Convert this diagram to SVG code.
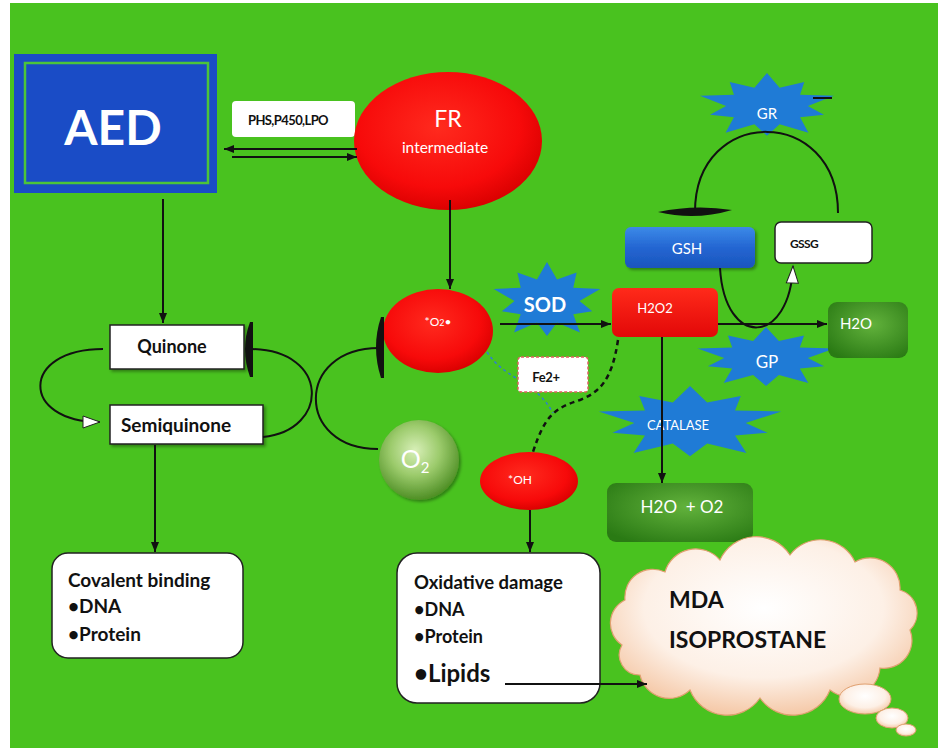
<svg xmlns="http://www.w3.org/2000/svg" width="941" height="754" viewBox="0 0 941 754">
<defs>
<style>
.t{font-family:Lato,"Liberation Sans",sans-serif}
.w{fill:#fff}
.k{fill:#111}
.b{font-weight:700}
.ln{fill:none;stroke:#111;stroke-width:2}
.box{fill:#fff;stroke:#222;stroke-width:1.5}
.star{fill:#1f7bd6}
</style>
<path id="star" d="M0,-100 L17.9,-55.2 L52.9,-72.8 L46.9,-34.1 L95.1,-30.9 L58,0 L80.8,26.3 L46.9,34.1 L58.8,80.9 L17.9,55.2 L0,90 L-17.9,55.2 L-58.8,80.9 L-46.9,34.1 L-80.8,26.3 L-58,0 L-95.1,-30.9 L-46.9,-34.1 L-52.9,-72.8 L-17.9,-55.2 Z"/>
<radialGradient id="red" cx="45%" cy="40%" r="62%">
<stop offset="0" stop-color="#ff2a1e"/><stop offset="0.7" stop-color="#f70a0a"/><stop offset="1" stop-color="#d80000"/>
</radialGradient>
<linearGradient id="redbox" x1="0" y1="0" x2="0" y2="1">
<stop offset="0" stop-color="#ff2a1a"/><stop offset="1" stop-color="#e20808"/>
</linearGradient>
<linearGradient id="blue" x1="0" y1="0" x2="0" y2="1">
<stop offset="0" stop-color="#3c8ae8"/><stop offset="0.5" stop-color="#2466d2"/><stop offset="1" stop-color="#1a55bd"/>
</linearGradient>
<radialGradient id="dg" cx="55%" cy="40%" r="70%">
<stop offset="0" stop-color="#62b23c"/><stop offset="1" stop-color="#2a7a14"/>
</radialGradient>
<radialGradient id="o2" cx="45%" cy="38%" r="62%">
<stop offset="0" stop-color="#d8efb8"/><stop offset="0.5" stop-color="#9ccb6c"/><stop offset="1" stop-color="#4f8f25"/>
</radialGradient>
<radialGradient id="cloud" cx="50%" cy="40%" r="65%">
<stop offset="0" stop-color="#ffffff"/><stop offset="0.6" stop-color="#fdf0e6"/><stop offset="1" stop-color="#f3c09a"/>
</radialGradient>
<filter id="sh" x="-10%" y="-10%" width="130%" height="140%">
<feDropShadow dx="2" dy="2" stdDeviation="1.5" flood-color="#000" flood-opacity="0.35"/>
</filter>
<marker id="ah" markerWidth="10" markerHeight="8" refX="10" refY="4" orient="auto" markerUnits="userSpaceOnUse">
<path d="M0,0 L10,4 L0,8 Z" fill="#111"/>
</marker>
<marker id="wh" markerWidth="20" markerHeight="14" refX="18" refY="7" orient="auto" markerUnits="userSpaceOnUse">
<path d="M1,1 L18,7 L1,13 Z" fill="#fff" stroke="#222" stroke-width="1"/>
</marker>
</defs>

<rect x="0" y="0" width="941" height="754" fill="#fff"/>
<rect x="10" y="3" width="928" height="745" fill="#49c21f"/>

<g id="GR">
<use href="#star" class="star" transform="translate(767,106) scale(0.705,0.33)"/>
<text x="767" y="119" text-anchor="middle" font-size="15" class="t w">GR</text>
</g>
<g id="SOD">
<use href="#star" class="star" transform="translate(547,301) scale(0.56,0.39)"/>
<text x="545" y="312" text-anchor="middle" font-size="20" class="t w b">SOD</text>
</g>
<g id="CATALASE">
<use href="#star" class="star" transform="translate(690,423) scale(0.96,0.37)"/>
<text x="678" y="430" text-anchor="middle" font-size="13" class="t w">CATALASE</text>
</g>

<g id="AED">
<rect x="14" y="54" width="203" height="139" fill="#1a4cc6"/>
<rect x="25" y="63" width="183" height="120" fill="none" stroke="#4cc43a" stroke-width="2.5"/>
<text x="113" y="145" text-anchor="middle" font-size="48" class="t w b">AED</text>
</g>
<g id="enzymes">
<rect x="232" y="101" width="123" height="36" rx="4" fill="#fff"/>
<text x="288" y="125" text-anchor="middle" font-size="13" letter-spacing="-0.6" class="t k b">PHS,P450,LPO</text>
</g>
<g id="FR">
<ellipse cx="448" cy="141" rx="94" ry="69" fill="url(#red)"/>
<text x="448" y="127" text-anchor="middle" font-size="23" class="t w">FR</text>
<text x="445" y="153" text-anchor="middle" font-size="15.5" class="t w">intermediate</text>
</g>
<g id="Quinone">
<rect x="110" y="325" width="134" height="44" class="box" filter="url(#sh)"/>
<text x="172" y="353" text-anchor="middle" font-size="18" class="t k b">Quinone</text>
</g>
<g id="Semiquinone">
<rect x="110" y="405" width="153" height="39" class="box" filter="url(#sh)"/>
<text x="176" y="432" text-anchor="middle" font-size="19" class="t k b">Semiquinone</text>
</g>
<g id="O2radical">
<ellipse cx="438" cy="331" rx="55" ry="42" fill="url(#red)"/>
<text x="438" y="326" text-anchor="middle" font-size="12" class="t w">*O<tspan font-size="9">2</tspan>•</text>
</g>
<g id="O2">
<circle cx="419" cy="460" r="40" fill="url(#o2)" filter="url(#sh)"/>
<text x="415" y="468" text-anchor="middle" font-size="25" class="t w">O<tspan font-size="15" dy="5">2</tspan></text>
</g>
<g id="H2O2">
<rect x="612" y="288" width="106" height="49" rx="7" fill="url(#redbox)"/>
<text x="655" y="313" text-anchor="middle" font-size="13" class="t w">H2O2</text>
</g>
<g id="GP">
<use href="#star" class="star" transform="translate(766,358) scale(0.72,0.31)"/>
<text x="767" y="368" text-anchor="middle" font-size="17" class="t w">GP</text>
</g>
<g id="H2O">
<rect x="828" y="302" width="80" height="56" rx="9" fill="url(#dg)"/>
<text x="856" y="329" text-anchor="middle" font-size="15" class="t w">H2O</text>
</g>
<g id="GSH">
<rect x="625" y="227" width="130" height="41" rx="6" fill="url(#blue)" filter="url(#sh)"/>
<text x="687" y="254" text-anchor="middle" font-size="15" class="t w">GSH</text>
</g>
<g id="GSSG">
<rect x="775" y="222" width="97" height="41" rx="6" class="box" stroke-width="2"/>
<text x="804" y="248" text-anchor="middle" font-size="12" letter-spacing="-0.6" class="t k b">GSSG</text>
</g>
<g id="H2O_O2">
<rect x="607" y="483" width="146" height="59" rx="9" fill="url(#dg)"/>
<text x="682" y="513" text-anchor="middle" font-size="17" class="t w" xml:space="preserve">H2O  + O2</text>
</g>
<g id="OH">
<ellipse cx="529" cy="481" rx="49" ry="29" fill="url(#red)"/>
<text x="520" y="484" text-anchor="middle" font-size="12" class="t w">*OH</text>
</g>
<g id="Covalent">
<rect x="52" y="553" width="191" height="105" rx="16" class="box" stroke-width="2"/>
<text x="68" y="587" font-size="19" class="t k b">Covalent binding</text>
<text x="68" y="613" font-size="19" class="t k b">•DNA</text>
<text x="68" y="641" font-size="19" class="t k b">•Protein</text>
</g>
<g id="Oxidative">
<rect x="397" y="553" width="203" height="150" rx="20" class="box" stroke-width="2"/>
<text x="414" y="589" font-size="18.5" class="t k b">Oxidative damage</text>
<text x="414" y="616" font-size="18" class="t k b">•DNA</text>
<text x="414" y="643" font-size="18" class="t k b">•Protein</text>
<text x="414" y="682" font-size="24" class="t k b">•Lipids</text>
</g>
<g id="cloud">
<path d="M622,645 A26,26 0 0 1 625,600 A28,28 0 0 1 665,572 A32,32 0 0 1 720,560 A40,40 0 0 1 790,555 A38,38 0 0 1 855,562 A30,30 0 0 1 900,590 A24,24 0 0 1 910,630 A28,28 0 0 1 880,668 A31,31 0 0 1 830,690 A40,40 0 0 1 760,698 A40,40 0 0 1 690,690 A30,30 0 0 1 640,675 A20,20 0 0 1 622,645 Z" fill="url(#cloud)" stroke="#e0a070" stroke-width="1.2"/>
<ellipse cx="865" cy="699" rx="26" ry="15" fill="url(#cloud)" stroke="#e0a070" stroke-width="1"/>
<ellipse cx="892" cy="718" rx="16" ry="10" fill="url(#cloud)" stroke="#e0a070" stroke-width="1"/>
<ellipse cx="906" cy="730" rx="10" ry="6" fill="url(#cloud)" stroke="#e0a070" stroke-width="1"/>
<text x="669" y="608" font-size="23" class="t k b">MDA</text>
<text x="669" y="648" font-size="23" class="t k b">ISOPROSTANE</text>
</g>

<g id="connectors">
<line x1="357" y1="149" x2="224" y2="149" class="ln" marker-end="url(#ah)"/>
<line x1="232" y1="157" x2="357" y2="157" class="ln" marker-end="url(#ah)"/>
<line x1="163" y1="199" x2="163" y2="323" class="ln" marker-end="url(#ah)"/>
<line x1="450" y1="200" x2="450" y2="289" class="ln" marker-end="url(#ah)"/>
<path d="M103,349 C20,349 20,422 100,422" class="ln" marker-end="url(#wh)"/>
<path d="M263,437 C330,430 330,350 251,349" class="ln"/>
<path d="M250,322 Q240,349 250,377 L253,377 L253,322 Z" fill="#111"/>
<path d="M378,449 C295,449 295,348 379,348" class="ln"/>
<path d="M381,317 Q371,347 381,378 L384,378 L384,317 Z" fill="#111"/>
<line x1="155" y1="445" x2="155" y2="552" class="ln" marker-end="url(#ah)"/>
<line x1="500" y1="324" x2="611" y2="324" class="ln" marker-end="url(#ah)"/>
<line x1="718" y1="324" x2="827" y2="324" class="ln" marker-end="url(#ah)"/>
<line x1="662" y1="337" x2="662" y2="483" class="ln" marker-end="url(#ah)"/>
<path d="M720,268 C725,350 790,345 793,266" class="ln" marker-end="url(#wh)"/>
<path d="M838,213 C838,105 695,105 695,212" class="ln"/>
<path d="M658,212 Q695,204 732,210 Q695,221 658,212 Z" fill="#111"/>
<line x1="813" y1="98" x2="832" y2="98" class="ln" stroke-width="2.5"/>
<path d="M487,352 C505,380 535,380 553,413" fill="none" stroke="#2f7fd0" stroke-width="1.5" stroke-dasharray="3,3"/>
<path d="M618,340 C612,380 600,392 580,400 C555,408 545,415 533,452" fill="none" stroke="#111" stroke-width="2.5" stroke-dasharray="5,4"/>
<line x1="530" y1="510" x2="530" y2="552" class="ln" marker-end="url(#ah)"/>
<line x1="505" y1="684" x2="647" y2="684" class="ln" marker-end="url(#ah)"/>
</g>

<g id="Fe2">
<rect x="518" y="357" width="70" height="35" rx="3" fill="#fff" stroke="#e06060" stroke-width="1.5" stroke-dasharray="3,2"/>
<text x="546" y="382" text-anchor="middle" font-size="13" letter-spacing="-0.3" class="t k b">Fe2+</text>
</g>
</svg>
